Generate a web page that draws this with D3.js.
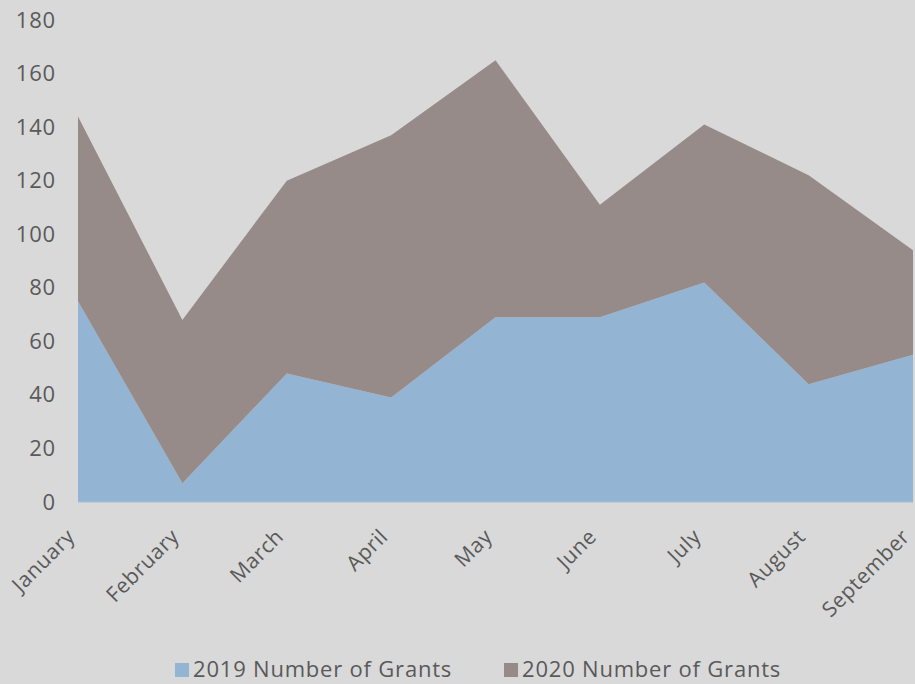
<!DOCTYPE html>
<html>
<head>
<meta charset="utf-8">
<script src="https://cdn.jsdelivr.net/npm/d3@7"></script>
<style>
  body { margin: 0; background: #d9d9d9; }
  svg { display: block; font-family: "Open Sans", sans-serif; }
</style>
</head>
<body>
<svg id="chart" width="915" height="684"></svg>
<script>
var months = ["January", "February", "March", "April", "May", "June", "July", "August", "September"]
var grants2019 = [75, 7, 48, 39, 69, 69, 82, 44, 55]
var grants2020 = [69, 61, 72, 98, 96, 42, 59, 78, 39]
var yTicks = [0, 20, 40, 60, 80, 100, 120, 140, 160, 180]
var seriesNames = ["2019 Number of Grants", "2020 Number of Grants"]

main()

function main() {
  var COLORS = ["#93b4d3", "#968b89"]
  var TEXT = "#595959"
  var FONT = "'Open Sans', sans-serif"

  var svg = d3.select("#chart")
  svg.append("rect").attr("width", 915).attr("height", 684).attr("fill", "#d9d9d9")

  var x = d3.scalePoint().domain(months).range([78, 913])
  var y = d3.scaleLinear().domain([0, 180]).range([502, 20])

  var rows = months.map(function(m, i) {
    return { month: m, a: grants2019[i], b: grants2020[i] }
  })
  var stack = d3.stack().keys(["a", "b"])(rows)

  var area = d3.area()
      .x(function(d) { return x(d.data.month) })
      .y0(function(d) { return y(d[0]) })
      .y1(function(d) { return y(d[1]) })

  svg.selectAll(".layer")
      .data(stack)
      .enter().append("path")
      .attr("class", "layer")
      .attr("fill", function(d, i) { return COLORS[i] })
      .attr("d", area)

  // baseline
  svg.append("line")
      .attr("x1", 78).attr("x2", 913)
      .attr("y1", y(0)).attr("y2", y(0))
      .attr("stroke", "#a9bfd4")
      .attr("stroke-width", 1)

  // y axis labels
  var yAxis = d3.axisLeft(y).tickValues(yTicks).tickSize(0).tickPadding(0)
  var yg = svg.append("g")
      .attr("transform", "translate(56,0)")
      .call(yAxis)
  yg.select(".domain").remove()
  yg.selectAll("text")
      .attr("fill", TEXT)
      .attr("font-size", 22)
      .attr("letter-spacing", 0.8)
      .attr("font-family", FONT)

  // x axis labels, rotated
  var xg = svg.append("g")
  xg.selectAll("text")
      .data(months)
      .enter().append("text")
      .attr("fill", TEXT)
      .attr("font-size", 21)
      .attr("letter-spacing", 0.6)
      .attr("font-family", FONT)
      .attr("text-anchor", "end")
      .attr("transform", function(d) {
        return "translate(" + (x(d) - 2) + ",538) rotate(-45)"
      })
      .text(function(d) { return d })

  // legend
  var legendX = [175, 504]
  var legend = svg.append("g")
  seriesNames.forEach(function(name, i) {
    legend.append("rect")
        .attr("x", legendX[i]).attr("y", 663)
        .attr("width", 14).attr("height", 14)
        .attr("fill", COLORS[i])
    legend.append("text")
        .attr("x", legendX[i] + 18).attr("y", 677)
        .attr("fill", TEXT)
        .attr("font-size", 22)
        .attr("letter-spacing", 0.8)
        .attr("font-family", FONT)
        .text(name)
  })
}
</script>
</body>
</html>
